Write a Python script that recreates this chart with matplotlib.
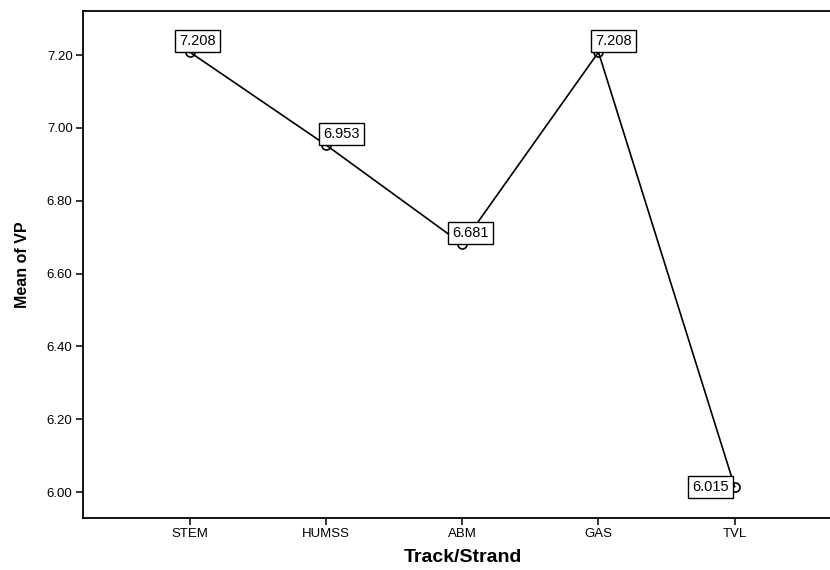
import matplotlib.pyplot as plt

# === DATA ===
strands = ['STEM', 'HUMSS', 'ABM', 'GAS', 'TVL']
mean_vp = [7.208, 6.953, 6.681, 7.208, 6.015]
yticks = [6.00, 6.20, 6.40, 6.60, 6.80, 7.00, 7.20]

# label box placement (pixels, relative to the point)
label_dx = [-15, -7, -14, -7, -2]
label_dy = [0, 0, 0, 0, 0]

plt.rcParams['font.family'] = ['Liberation Sans', 'DejaVu Sans']

fig = plt.figure(figsize=(8.3, 5.7), dpi=100)
ax = fig.add_axes([0.1, 0.0912, 0.9, 0.8895])

x = list(range(len(strands)))
ax.plot(x, mean_vp, color='black', linewidth=1.2, marker='o', markersize=6.5,
        markerfacecolor='none', markeredgecolor='black', markeredgewidth=1.2)

# value labels in boxes
fs = 10.5
pad = 0.28
pad_px = pad * fs * 100 / 72
box = dict(boxstyle=f'square,pad={pad}', facecolor='white', edgecolor='black', linewidth=1.0)
for i, v in enumerate(mean_vp):
    if i == len(mean_vp) - 1:
        ax.annotate(f'{v:.3f}', (i, v), xytext=(label_dx[i] - pad_px, label_dy[i]),
                    textcoords='offset pixels', ha='right', va='center',
                    fontsize=fs, bbox=box, zorder=3)
    else:
        ax.annotate(f'{v:.3f}', (i, v), xytext=(label_dx[i] + pad_px, label_dy[i] + pad_px),
                    textcoords='offset pixels', ha='left', va='bottom',
                    fontsize=fs, bbox=box, zorder=3)

ax.set_xlim(-0.785, 4.70)
ax.set_ylim(5.929, 7.321)
ax.set_xticks(x)
ax.set_xticklabels(strands)
ax.set_yticks(yticks)
ax.set_yticklabels([f'{t:.2f}' for t in yticks])
ax.tick_params(direction='out', length=5, width=1.1, labelsize=9.5, colors='black', pad=2.5)

for side in ['left', 'bottom', 'top']:
    ax.spines[side].set_linewidth(1.3)
ax.spines['right'].set_visible(False)

ax.set_xlabel('Track/Strand', fontsize=14, fontweight='bold', labelpad=6)
ax.xaxis.label.set_x(0.509)
ax.set_ylabel('Mean of VP', fontsize=11.5, fontweight='bold', labelpad=12)

fig.savefig('out.png', dpi=100)
